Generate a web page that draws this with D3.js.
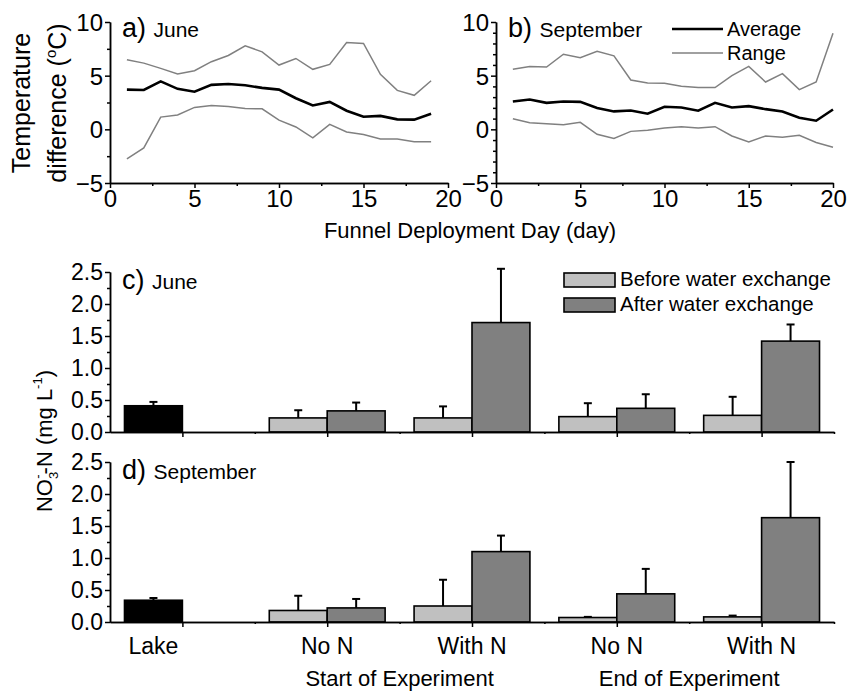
<!DOCTYPE html>
<html>
<head>
<meta charset="utf-8">
<script src="https://cdn.jsdelivr.net/npm/d3@7"></script>
<style>
  body { margin: 0; background: #fff; }
  svg { font-family: "Liberation Sans", Arial, sans-serif; }
  .axis path, .axis line { stroke: #000; stroke-width: 1.5; }
  .axis text { font-size: 20px; fill: #000; font-family: "Liberation Sans", Arial, sans-serif; }
</style>
</head>
<body>
<svg width="847" height="691"></svg>
<script>
// temperature difference, panels a and b
const juneDays = [1, 2, 3, 4, 5, 6, 7, 8, 9, 10, 11, 12, 13, 14, 15, 16, 17, 18, 19];
const juneAvg = [3.7, 3.67, 4.47, 3.77, 3.5, 4.14, 4.23, 4.1, 3.86, 3.7, 2.9, 2.22, 2.56, 1.73, 1.17, 1.25, 0.93, 0.9, 1.45];
const juneHigh = [6.48, 6.17, 5.68, 5.15, 5.46, 6.3, 6.88, 7.78, 7.22, 5.99, 6.6, 5.59, 6.05, 8.09, 8.0, 5.12, 3.63, 3.17, 4.53];
const juneLow = [-2.75, -1.73, 1.14, 1.33, 2.04, 2.22, 2.13, 1.94, 1.91, 0.86, 0.22, -0.8, 0.46, -0.25, -0.49, -0.9, -0.9, -1.16, -1.15];

const septDays = [1, 2, 3, 4, 5, 6, 7, 8, 9, 10, 11, 12, 13, 14, 15, 16, 17, 18, 19, 20];
const septAvg = [2.59, 2.78, 2.47, 2.59, 2.56, 1.98, 1.67, 1.76, 1.45, 2.1, 2.04, 1.73, 2.47, 2.04, 2.16, 1.88, 1.67, 1.08, 0.8, 1.85];
const septHigh = [5.59, 5.86, 5.8, 7.0, 6.67, 7.28, 6.85, 4.6, 4.32, 4.29, 4.01, 3.89, 3.89, 5.0, 5.86, 4.41, 5.19, 3.7, 4.41, 8.95];
const septLow = [0.99, 0.62, 0.52, 0.43, 0.65, -0.46, -0.86, -0.19, -0.09, 0.12, 0.25, 0.12, 0.25, -0.62, -1.17, -0.62, -0.74, -0.56, -1.23, -1.67];

// nitrate, panels c and d (first entry is the lake, no "after" bar)
const groups = ['Lake', 'No N', 'With N', 'No N', 'With N'];
const phases = ['Start of Experiment', 'End of Experiment'];
const juneBefore = [0.41, 0.22, 0.22, 0.24, 0.26];
const juneBeforeErr = [0.06, 0.12, 0.18, 0.21, 0.29];
const juneAfter = [null, 0.33, 1.71, 0.37, 1.42];
const juneAfterErr = [null, 0.13, 0.84, 0.22, 0.26];
const septBefore = [0.34, 0.18, 0.25, 0.07, 0.08];
const septBeforeErr = [0.035, 0.23, 0.41, 0.01, 0.02];
const septAfter = [null, 0.22, 1.1, 0.44, 1.63];
const septAfterErr = [null, 0.14, 0.25, 0.39, 0.87];

const svg = d3.select('svg');
const grey = '#808080';
const light = '#c0c0c0';

function linePanel(x0, x1, days, avg, high, low, minorStep, letter, month) {
  const xScale = d3.scaleLinear().domain([0, 20]).range([x0, x1]);
  const yScale = d3.scaleLinear().domain([-5, 10]).range([183, 22]);

  const yMinor = d3.range(-5, 10.01, minorStep).filter(v => v % 5 !== 0);
  svg.append('g').attr('class', 'axis')
    .attr('transform', 'translate(' + x0 + ',0)')
    .call(d3.axisLeft(yScale).tickValues(yMinor).tickSize(3).tickSizeOuter(0).tickFormat(''));
  svg.append('g').attr('class', 'axis')
    .attr('transform', 'translate(' + x0 + ',0)')
    .call(d3.axisLeft(yScale).tickValues([-5, 0, 5, 10]).tickSize(5).tickSizeOuter(0).tickPadding(2))
    .selectAll('text').style('font-size', '24px').attr('dy', '0.36em');

  svg.append('g').attr('class', 'axis')
    .attr('transform', 'translate(0,183)')
    .call(d3.axisBottom(xScale).tickValues([2.5, 7.5, 12.5, 17.5]).tickSize(3).tickSizeOuter(0).tickFormat(''));
  svg.append('g').attr('class', 'axis')
    .attr('transform', 'translate(0,183)')
    .call(d3.axisBottom(xScale).tickValues([0, 5, 10, 15, 20]).tickSize(5).tickSizeOuter(0).tickPadding(2))
    .selectAll('text').style('font-size', '24px');

  const line = vals => d3.line()
    .x((d, i) => xScale(days[i]))
    .y(d => yScale(d))(vals);

  svg.append('path').attr('d', line(high)).attr('fill', 'none').attr('stroke', grey).attr('stroke-width', 1.5);
  svg.append('path').attr('d', line(low)).attr('fill', 'none').attr('stroke', grey).attr('stroke-width', 1.5);
  svg.append('path').attr('d', line(avg)).attr('fill', 'none').attr('stroke', '#000').attr('stroke-width', 2.6);

  const lab = svg.append('text').attr('x', x0 + 12).attr('y', 37);
  lab.append('tspan').style('font-size', '27px').text(letter + ') ');
  lab.append('tspan').style('font-size', '21px').text(month);
}

linePanel(110, 448, juneDays, juneAvg, juneHigh, juneLow, 2.5, 'a', 'June');
linePanel(496, 833, septDays, septAvg, septHigh, septLow, 1, 'b', 'September');

// legend for the lines
svg.append('line').attr('x1', 672).attr('x2', 723).attr('y1', 29).attr('y2', 29)
  .attr('stroke', '#000').attr('stroke-width', 2.6);
svg.append('text').attr('x', 727).attr('y', 36).style('font-size', '20px').text('Average');
svg.append('line').attr('x1', 672).attr('x2', 723).attr('y1', 53).attr('y2', 53)
  .attr('stroke', grey).attr('stroke-width', 1.5);
svg.append('text').attr('x', 727).attr('y', 60).style('font-size', '20px').text('Range');

svg.append('text').attr('x', 470).attr('y', 238).attr('text-anchor', 'middle')
  .style('font-size', '22px').text('Funnel Deployment Day (day)');

const tLab = svg.append('g').attr('transform', 'translate(0,103) rotate(-90)');
tLab.append('text').attr('x', 0).attr('y', 30).attr('text-anchor', 'middle')
  .style('font-size', '25px').text('Temperature');
const dLab = tLab.append('text').attr('x', 0).attr('y', 66).attr('text-anchor', 'middle')
  .style('font-size', '25px');
dLab.append('tspan').text('difference (');
dLab.append('tspan').attr('dy', -10).style('font-size', '15px').text('o');
dLab.append('tspan').attr('dy', 10).text('C)');

// bar panels
const xBar = d3.scaleLinear().domain([0, 10]).range([110, 834]);
const centers = [1, 3, 5, 7, 9];
const bw = 0.8;

function barPanel(yTop, yBase, before, beforeErr, after, afterErr, letter, month) {
  const yScale = d3.scaleLinear().domain([0, 2.5]).range([yBase, yTop]);

  svg.append('g').attr('class', 'axis')
    .attr('transform', 'translate(110,0)')
    .call(d3.axisLeft(yScale).tickValues([0.25, 0.75, 1.25, 1.75, 2.25]).tickSize(3).tickSizeOuter(0).tickFormat(''));
  svg.append('g').attr('class', 'axis')
    .attr('transform', 'translate(110,0)')
    .call(d3.axisLeft(yScale).tickValues([0, 0.5, 1, 1.5, 2, 2.5]).tickSize(5).tickSizeOuter(0)
      .tickPadding(2).tickFormat(d3.format('.1f')))
    .selectAll('text').style('font-size', '23px');

  const bars = [];
  before.forEach((v, i) => {
    bars.push({ x: centers[i] - bw, v: v, e: beforeErr[i], fill: i === 0 ? '#000' : light });
    if (after[i] !== null) {
      bars.push({ x: centers[i], v: after[i], e: afterErr[i], fill: grey });
    }
  });

  const g = svg.append('g');
  g.selectAll('line.err').data(bars).enter().append('line')
    .attr('x1', d => xBar(d.x + bw / 2)).attr('x2', d => xBar(d.x + bw / 2))
    .attr('y1', d => yScale(d.v)).attr('y2', d => yScale(d.v + d.e))
    .attr('stroke', '#000').attr('stroke-width', 2);
  g.selectAll('line.cap').data(bars).enter().append('line')
    .attr('x1', d => xBar(d.x + bw / 2) - 4).attr('x2', d => xBar(d.x + bw / 2) + 4)
    .attr('y1', d => yScale(d.v + d.e)).attr('y2', d => yScale(d.v + d.e))
    .attr('stroke', '#000').attr('stroke-width', 2);
  g.selectAll('rect').data(bars).enter().append('rect')
    .attr('x', d => xBar(d.x))
    .attr('y', d => yScale(d.v))
    .attr('width', d => xBar(d.x + bw) - xBar(d.x))
    .attr('height', d => yBase - yScale(d.v))
    .attr('fill', d => d.fill)
    .attr('stroke', '#000').attr('stroke-width', 1.6);

  svg.append('g').attr('class', 'axis')
    .attr('transform', 'translate(0,' + yBase + ')')
    .call(d3.axisBottom(xBar).tickValues([2, 4, 6, 8, 10]).tickSize(2).tickSizeOuter(0).tickFormat(''));
  svg.append('g').attr('class', 'axis')
    .attr('transform', 'translate(0,' + yBase + ')')
    .call(d3.axisBottom(xBar).tickValues(centers).tickSize(5).tickSizeOuter(0).tickFormat(''));

  const lab = svg.append('text').attr('x', 122).attr('y', yTop + 17);
  lab.append('tspan').style('font-size', '27px').text(letter + ') ');
  lab.append('tspan').style('font-size', '21px').text(month);
}

barPanel(272, 432, juneBefore, juneBeforeErr, juneAfter, juneAfterErr, 'c', 'June');
barPanel(462, 622, septBefore, septBeforeErr, septAfter, septAfterErr, 'd', 'September');

// category labels under panel d
svg.selectAll('text.cat').data(groups).enter().append('text')
  .attr('class', 'cat')
  .attr('x', (d, i) => i === 0 ? xBar(centers[i] - bw / 2) : xBar(centers[i]))
  .attr('y', 654).attr('text-anchor', 'middle')
  .style('font-size', '23px').text(d => d);
svg.selectAll('text.phase').data(phases).enter().append('text')
  .attr('class', 'phase')
  .attr('x', (d, i) => xBar(4 + i * 4))
  .attr('y', 686).attr('text-anchor', 'middle')
  .style('font-size', '22px').text(d => d);

// bar legend
const legendItems = [['Before water exchange', light], ['After water exchange', grey]];
legendItems.forEach((d, i) => {
  svg.append('rect').attr('x', 564).attr('y', 273 + i * 25).attr('width', 51).attr('height', 14)
    .attr('fill', d[1]).attr('stroke', '#000').attr('stroke-width', 1.6);
  svg.append('text').attr('x', 620).attr('y', 286 + i * 25).style('font-size', '20.5px').text(d[0]);
});

// y label for the bar panels
const nLab = svg.append('text').attr('transform', 'translate(52,441) rotate(-90)')
  .attr('text-anchor', 'middle').style('font-size', '22px');
nLab.append('tspan').text('NO');
nLab.append('tspan').attr('dy', 6).style('font-size', '13px').text('3');
nLab.append('tspan').attr('dx', -7).attr('dy', -16).style('font-size', '13px').text('-');
nLab.append('tspan').attr('dy', 10).text('-N (mg L');
nLab.append('tspan').attr('dy', -10).style('font-size', '13px').text('-1');
nLab.append('tspan').attr('dy', 10).text(')');
</script>
</body>
</html>
